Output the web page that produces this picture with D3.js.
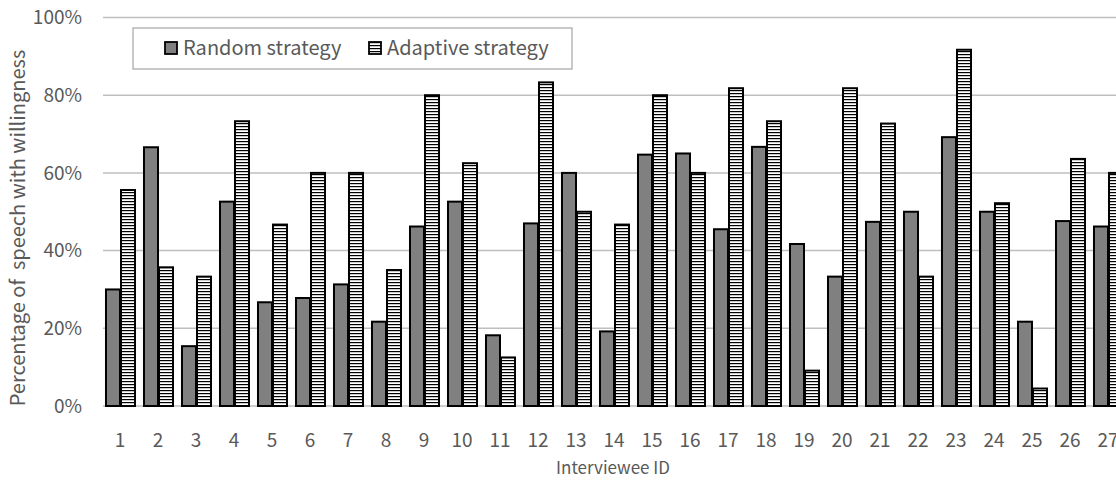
<!DOCTYPE html>
<html><head><meta charset="utf-8">
<script src="https://cdn.jsdelivr.net/npm/d3@7"></script>
<style>body{margin:0;background:#fff}svg{display:block}text{font-family:"Noto Sans CJK JP","Noto Sans",sans-serif;fill:#595959}</style>
</head><body><svg id="c" width="1116" height="481"></svg>
<script>
const ids = ["1","2","3","4","5","6","7","8","9","10","11","12","13","14","15","16","17","18","19","20","21","22","23","24","25","26","27"];
const randomVals = [0.30,0.666,0.154,0.526,0.267,0.278,0.313,0.217,0.462,0.526,0.182,0.47,0.60,0.192,0.647,0.65,0.455,0.667,0.417,0.333,0.474,0.50,0.692,0.50,0.217,0.476,0.462];
const adaptiveVals = [0.556,0.357,0.333,0.733,0.467,0.60,0.60,0.35,0.80,0.625,0.125,0.833,0.50,0.467,0.80,0.60,0.818,0.733,0.091,0.818,0.727,0.333,0.917,0.522,0.045,0.636,0.60];
const yTicks = [0,0.2,0.4,0.6,0.8,1.0];
const seriesNames = ["Random strategy","Adaptive strategy"];

const svg = d3.select("#c");
const defs = svg.append("defs");
const pat = defs.append("pattern").attr("id","hatch").attr("patternUnits","userSpaceOnUse")
  .attr("width",6).attr("height",3);
pat.append("rect").attr("width",6).attr("height",3).attr("fill","#fff");
pat.append("rect").attr("y",0).attr("width",6).attr("height",1.2).attr("fill","#000");

const x0 = 101, step = 38;
const x = d3.scaleBand().domain(ids).range([x0, x0 + step*ids.length]).paddingInner(0.21).paddingOuter(0.105);
const xs = d3.scaleBand().domain([0,1]).range([0, x.bandwidth()]);
const y = d3.scaleLinear().domain([0,1]).range([406,17.5]);

svg.append("g").selectAll("line").data(yTicks).join("line")
  .attr("x1",103).attr("x2",1116).attr("y1",d=>y(d)).attr("y2",d=>y(d))
  .attr("stroke","#bfbfbf").attr("stroke-width",1.5);

svg.append("g").selectAll("text").data(yTicks).join("text")
  .attr("x",82).attr("y",d=>y(d)).attr("dy","0.35em").attr("text-anchor","end")
  .attr("font-size",19).text(d=>d3.format(".0%")(d));

const data = ids.map((id,i)=>({id, vals:[randomVals[i], adaptiveVals[i]]}));
const g = svg.append("g").selectAll("g").data(data).join("g").attr("transform",d=>`translate(${x(d.id)},0)`);
g.selectAll("rect").data(d=>d.vals.map((v,k)=>({v,k}))).join("rect")
  .attr("x",d=>xs(d.k)+1).attr("width",xs.bandwidth()-1)
  .attr("y",d=>y(d.v)).attr("height",d=>y(0)-y(d.v))
  .attr("fill",d=>d.k===0?"#808080":"url(#hatch)")
  .attr("stroke","#000").attr("stroke-width",2);

svg.append("g").selectAll("text").data(ids).join("text")
  .attr("x",d=>x(d)+x.bandwidth()/2).attr("y",440).attr("dy","0.35em").attr("text-anchor","middle")
  .attr("font-size",19).text(d=>d);

svg.append("text").attr("x",613).attr("y",468).attr("dy","0.35em").attr("text-anchor","middle")
  .attr("font-size",17).text("Interviewee ID");
svg.append("text").attr("transform","translate(18,228) rotate(-90)").attr("dy","0.35em").attr("text-anchor","middle")
  .attr("font-size",20).attr("xml:space","preserve").style("white-space","pre").text("Percentage of  speech with willingness");

const lg = svg.append("g");
lg.append("rect").attr("x",133).attr("y",28).attr("width",439).attr("height",41).attr("fill","#fff").attr("stroke","#a6a6a6").attr("stroke-width",1.2);
const items = [{x:165},{x:369}];
items.forEach((it,i)=>{
  lg.append("rect").attr("x",it.x).attr("y",42).attr("width",12).attr("height",12)
    .attr("fill",i===0?"#808080":"url(#hatch)").attr("stroke","#000").attr("stroke-width",1.8);
  lg.append("text").attr("x",it.x+18).attr("y",48).attr("dy","0.35em").attr("font-size",20).text(seriesNames[i]);
});
</script></body></html>
